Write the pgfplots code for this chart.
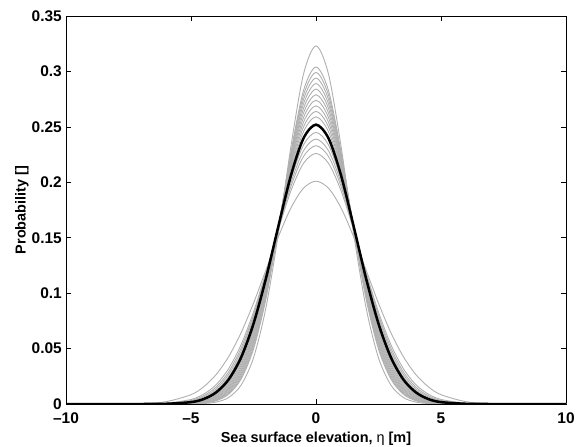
\documentclass[border=0pt]{standalone}
\usepackage{fontspec}
\setmainfont{Liberation Sans}
\usepackage{pgfplots}
\usepackage{pgfplotstable}
\pgfplotsset{compat=1.18}

% Gaussian pdfs sampled at x; columns g1..g16 are the grey ensemble, bk the black mean curve
\pgfplotstableread{
x     g1     g2     g3     g4     g5     g6     g7     g8     g9     g10    g11    g12    g13    g14    g15    g16    bk
-10   0      0      0      0      0      0      0      0      0      0      0      0      0      0      0      0      0
-7    0      0      0      0      0      0      0      0      0      0      0      0      0      0      0.0001 0.0004 0
-6    0      0      0      0      0      0      0      0.0001 0.0001 0.0001 0.0001 0.0003 0.0004 0.0005 0.0007 0.0021 0.0002
-5    0.0001 0.0002 0.0003 0.0003 0.0004 0.0005 0.0006 0.0008 0.0009 0.0011 0.0013 0.0022 0.0027 0.0033 0.0041 0.0084 0.0017
-4.5  0.0004 0.0009 0.0010 0.0012 0.0014 0.0017 0.0020 0.0023 0.0027 0.0031 0.0036 0.0054 0.0063 0.0074 0.0088 0.0154 0.0044
-4    0.0017 0.0029 0.0033 0.0038 0.0043 0.0049 0.0056 0.0063 0.0071 0.0080 0.0089 0.0120 0.0135 0.0152 0.0173 0.0264 0.0104
-3.5  0.0058 0.0087 0.0096 0.0106 0.0116 0.0127 0.0140 0.0152 0.0166 0.0181 0.0196 0.0243 0.0265 0.0288 0.0317 0.0425 0.0219
-3    0.0169 0.0223 0.0239 0.0255 0.0273 0.0290 0.0309 0.0328 0.0348 0.0368 0.0389 0.0449 0.0475 0.0502 0.0533 0.0641 0.0418
-2.5  0.0416 0.0495 0.0517 0.0539 0.0561 0.0583 0.0605 0.0627 0.0650 0.0672 0.0694 0.0754 0.0779 0.0803 0.0829 0.0909 0.0724
-2    0.0871 0.0952 0.0972 0.0992 0.1012 0.1031 0.1049 0.1067 0.1084 0.1100 0.1115 0.1152 0.1166 0.1178 0.1190 0.1210 0.1135
-1.5  0.1545 0.1582 0.1589 0.1596 0.1601 0.1606 0.1609 0.1612 0.1613 0.1613 0.1612 0.1603 0.1596 0.1587 0.1575 0.1511 0.1609
-1    0.2327 0.2274 0.2258 0.2241 0.2223 0.2204 0.2185 0.2164 0.2143 0.2121 0.2098 0.2029 0.1997 0.1965 0.1925 0.1770 0.2064
-0.5  0.2976 0.2827 0.2787 0.2747 0.2707 0.2666 0.2625 0.2583 0.2541 0.2499 0.2457 0.2337 0.2285 0.2233 0.2171 0.1947 0.2397
0     0.323  0.304  0.299  0.294  0.289  0.284  0.279  0.274  0.269  0.264  0.259  0.245  0.239  0.233  0.226  0.201  0.252
0.5   0.2976 0.2827 0.2787 0.2747 0.2707 0.2666 0.2625 0.2583 0.2541 0.2499 0.2457 0.2337 0.2285 0.2233 0.2171 0.1947 0.2397
1     0.2327 0.2274 0.2258 0.2241 0.2223 0.2204 0.2185 0.2164 0.2143 0.2121 0.2098 0.2029 0.1997 0.1965 0.1925 0.1770 0.2064
1.5   0.1545 0.1582 0.1589 0.1596 0.1601 0.1606 0.1609 0.1612 0.1613 0.1613 0.1612 0.1603 0.1596 0.1587 0.1575 0.1511 0.1609
2     0.0871 0.0952 0.0972 0.0992 0.1012 0.1031 0.1049 0.1067 0.1084 0.1100 0.1115 0.1152 0.1166 0.1178 0.1190 0.1210 0.1135
2.5   0.0416 0.0495 0.0517 0.0539 0.0561 0.0583 0.0605 0.0627 0.0650 0.0672 0.0694 0.0754 0.0779 0.0803 0.0829 0.0909 0.0724
3     0.0169 0.0223 0.0239 0.0255 0.0273 0.0290 0.0309 0.0328 0.0348 0.0368 0.0389 0.0449 0.0475 0.0502 0.0533 0.0641 0.0418
3.5   0.0058 0.0087 0.0096 0.0106 0.0116 0.0127 0.0140 0.0152 0.0166 0.0181 0.0196 0.0243 0.0265 0.0288 0.0317 0.0425 0.0219
4     0.0017 0.0029 0.0033 0.0038 0.0043 0.0049 0.0056 0.0063 0.0071 0.0080 0.0089 0.0120 0.0135 0.0152 0.0173 0.0264 0.0104
4.5   0.0004 0.0009 0.0010 0.0012 0.0014 0.0017 0.0020 0.0023 0.0027 0.0031 0.0036 0.0054 0.0063 0.0074 0.0088 0.0154 0.0044
5     0.0001 0.0002 0.0003 0.0003 0.0004 0.0005 0.0006 0.0008 0.0009 0.0011 0.0013 0.0022 0.0027 0.0033 0.0041 0.0084 0.0017
6     0      0      0      0      0      0      0      0.0001 0.0001 0.0001 0.0001 0.0003 0.0004 0.0005 0.0007 0.0021 0.0002
7     0      0      0      0      0      0      0      0      0      0      0      0      0      0      0.0001 0.0004 0
10    0      0      0      0      0      0      0      0      0      0      0      0      0      0      0      0      0
}\pdfdata

\definecolor{ensgray}{RGB}{175,175,175}

\begin{document}
\begin{tikzpicture}
% fix the page to the reference frame: axis box 500x388, margins 66/11 and 43/16
\useasboundingbox (-66bp,-43bp) rectangle (511bp,404bp);
\begin{axis}[
  at={(0,0)}, anchor=south west,
  width=500bp, height=388bp,
  scale only axis,
  xmin=-10, xmax=10,
  ymin=0, ymax=0.35,
  xtick={-10,-5,0,5,10},
  xticklabels={\textendash10,\textendash5,0,5,10},
  ytick={0,0.05,...,0.35},
  yticklabels={0,0.05,0.1,0.15,0.2,0.25,0.3,0.35},
  tick align=inside,
  major tick length=5bp,
  tick style={black, line width=0.6pt},
  axis line style={black, line width=0.8pt},
  ticklabel style={font=\fontsize{15.5}{17}\selectfont\bfseries},
  /pgf/number format/assume math mode=true,
  xticklabel style={anchor=base, inner sep=0pt, yshift=-19.5bp},
  yticklabel style={anchor=east, inner sep=0pt, xshift=-4bp},
  label style={font=\fontsize{14.5}{17}\selectfont\bfseries},
  xlabel={Sea surface elevation, \textmd{η} [m]},
  ylabel={Probability []},
  xlabel style={at={(axis description cs:0.5,0)}, anchor=base, inner sep=0pt, yshift=-38bp},
  ylabel style={at={(axis description cs:0,0.5)}, anchor=center, inner sep=0pt, yshift=44bp},
  every axis plot/.append style={smooth, no markers},
]
\foreach \c in {g1,g2,g3,g4,g5,g6,g7,g8,g9,g10,g11,g12,g13,g14,g15,g16} {
  \addplot[ensgray, line width=0.9pt] table[x=x, y=\c] {\pdfdata};
}
\addplot[black, line width=2.5pt] table[x=x, y=bk] {\pdfdata};
\end{axis}
\end{tikzpicture}
\end{document}
